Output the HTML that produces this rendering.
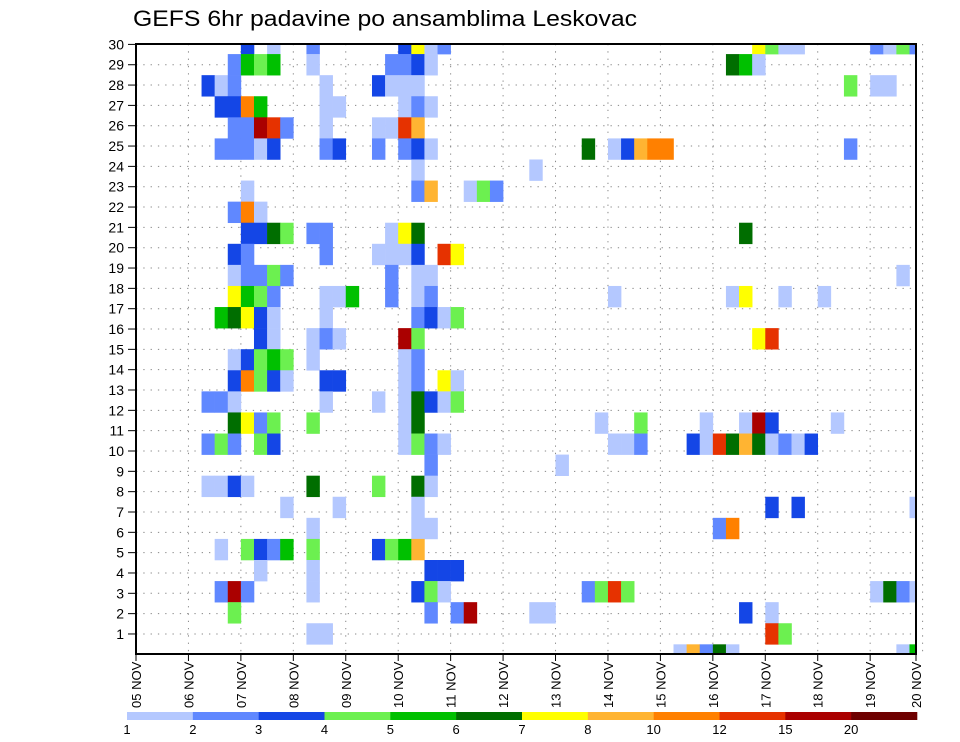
<!DOCTYPE html>
<html><head><meta charset="utf-8"><style>
html,body{margin:0;padding:0;background:#fff;}
svg{display:block;font-family:"Liberation Sans",sans-serif;}
</style></head><body>
<svg id="chart" width="960" height="742" viewBox="0 0 960 742" xmlns="http://www.w3.org/2000/svg">
<defs><clipPath id="plotclip"><rect x="136" y="44" width="780" height="610"/></clipPath></defs>
<text x="133" y="26" font-size="22" textLength="504" lengthAdjust="spacingAndGlyphs" fill="#000">GEFS 6hr padavine po ansamblima Leskovac</text>
<g id="grid"></g>
<g id="cells" clip-path="url(#plotclip)"></g>
<rect x="136" y="44" width="780" height="610" fill="none" stroke="#000" stroke-width="2"/>
<g id="yaxis"></g>
<g id="xaxis"></g>
<g id="legend"></g>
</svg>
<script>
// categories
const dayLabels = ["05 NOV","06 NOV","07 NOV","08 NOV","09 NOV","10 NOV","11 NOV","12 NOV","13 NOV","14 NOV","15 NOV","16 NOV","17 NOV","18 NOV","19 NOV","20 NOV"];
const memberTicks = [1,2,3,4,5,6,7,8,9,10,11,12,13,14,15,16,17,18,19,20,21,22,23,24,25,26,27,28,29,30];
// legend bins (mm)
const levelBounds = [1,2,3,4,5,6,7,8,10,12,15,20];
const levelLabels = ["1","2","3","4","5","6","7","8","10","12","15","20"];
const levelColors = ["#b4c8ff","#6088ff","#1446e6","#6cf050","#00c000","#006e00","#ffff00","#ffb432","#ff8000","#e63200","#aa0000","#6e0000"];
// cells: [member, 6h step index, precipitation mm]
const cellData = [
[30,8,3.5],[30,10,1.5],[30,13,2.5],[30,20,3.5],[30,21,7.5],[30,22,1.5],[30,23,2.5],[30,47,7.5],[30,48,4.5],[30,49,1.5],[30,50,1.5],[30,56,2.5],[30,57,1.5],[30,58,4.5],[30,59,2.5],
[29,7,2.5],[29,8,5.5],[29,9,4.5],[29,10,5.5],[29,13,1.5],[29,19,2.5],[29,20,2.5],[29,21,3.5],[29,22,1.5],[29,45,6.5],[29,46,5.5],[29,47,1.5],
[28,5,3.5],[28,6,1.5],[28,7,2.5],[28,14,1.5],[28,18,3.5],[28,19,1.5],[28,20,1.5],[28,21,1.5],[28,54,4.5],[28,56,1.5],[28,57,1.5],
[27,6,3.5],[27,7,3.5],[27,8,11],[27,9,5.5],[27,14,1.5],[27,15,1.5],[27,20,1.5],[27,21,2.5],[27,22,1.5],
[26,7,2.5],[26,8,2.5],[26,9,17.5],[26,10,13.5],[26,11,2.5],[26,14,1.5],[26,18,1.5],[26,19,1.5],[26,20,13.5],[26,21,9],
[25,6,2.5],[25,7,2.5],[25,8,2.5],[25,9,1.5],[25,10,3.5],[25,14,2.5],[25,15,3.5],[25,18,2.5],[25,20,2.5],[25,21,3.5],[25,22,1.5],[25,34,6.5],[25,36,1.5],[25,37,3.5],[25,38,9],[25,39,11],[25,40,11],[25,54,2.5],
[24,21,1.5],[24,30,1.5],
[23,8,1.5],[23,21,2.5],[23,22,9],[23,25,1.5],[23,26,4.5],[23,27,2.5],
[22,7,2.5],[22,8,11],[22,9,1.5],
[21,8,3.5],[21,9,3.5],[21,10,6.5],[21,11,4.5],[21,13,2.5],[21,14,2.5],[21,19,1.5],[21,20,7.5],[21,21,6.5],[21,46,6.5],
[20,7,3.5],[20,8,2.5],[20,14,2.5],[20,18,1.5],[20,19,1.5],[20,20,1.5],[20,21,3.5],[20,23,13.5],[20,24,7.5],
[19,7,1.5],[19,8,2.5],[19,9,2.5],[19,10,4.5],[19,11,2.5],[19,19,2.5],[19,21,1.5],[19,22,1.5],[19,58,1.5],
[18,7,7.5],[18,8,5.5],[18,9,4.5],[18,10,2.5],[18,14,1.5],[18,15,1.5],[18,16,5.5],[18,19,2.5],[18,21,1.5],[18,22,2.5],[18,36,1.5],[18,45,1.5],[18,46,7.5],[18,49,1.5],[18,52,1.5],
[17,6,5.5],[17,7,6.5],[17,8,7.5],[17,9,3.5],[17,10,1.5],[17,14,1.5],[17,21,2.5],[17,22,3.5],[17,23,1.5],[17,24,4.5],
[16,9,3.5],[16,10,1.5],[16,13,1.5],[16,14,2.5],[16,15,1.5],[16,20,17.5],[16,21,4.5],[16,47,7.5],[16,48,13.5],
[15,7,1.5],[15,8,3.5],[15,9,4.5],[15,10,5.5],[15,11,4.5],[15,13,1.5],[15,20,1.5],[15,21,2.5],
[14,7,3.5],[14,8,11],[14,9,4.5],[14,10,3.5],[14,11,1.5],[14,14,3.5],[14,15,3.5],[14,20,1.5],[14,21,2.5],[14,23,7.5],[14,24,1.5],
[13,5,2.5],[13,6,2.5],[13,7,1.5],[13,14,1.5],[13,18,1.5],[13,20,1.5],[13,21,6.5],[13,22,3.5],[13,23,1.5],[13,24,4.5],
[12,7,6.5],[12,8,7.5],[12,9,2.5],[12,10,4.5],[12,13,4.5],[12,20,1.5],[12,21,6.5],[12,35,1.5],[12,38,4.5],[12,43,1.5],[12,46,1.5],[12,47,17.5],[12,48,3.5],[12,53,1.5],
[11,5,2.5],[11,6,4.5],[11,7,2.5],[11,9,4.5],[11,10,3.5],[11,20,1.5],[11,21,4.5],[11,22,2.5],[11,23,1.5],[11,36,1.5],[11,37,1.5],[11,38,2.5],[11,42,3.5],[11,43,1.5],[11,44,13.5],[11,45,6.5],[11,46,9],[11,47,6.5],[11,48,1.5],[11,49,2.5],[11,50,1.5],[11,51,3.5],
[10,22,2.5],[10,32,1.5],
[9,5,1.5],[9,6,1.5],[9,7,3.5],[9,8,1.5],[9,13,6.5],[9,18,4.5],[9,21,6.5],[9,22,1.5],
[8,11,1.5],[8,15,1.5],[8,21,1.5],[8,48,3.5],[8,50,3.5],[8,59,1.5],
[7,13,1.5],[7,21,1.5],[7,22,1.5],[7,44,2.5],[7,45,11],
[6,6,1.5],[6,8,4.5],[6,9,3.5],[6,10,2.5],[6,11,5.5],[6,13,4.5],[6,18,3.5],[6,19,4.5],[6,20,5.5],[6,21,9],
[5,9,1.5],[5,13,1.5],[5,22,3.5],[5,23,3.5],[5,24,3.5],
[4,6,2.5],[4,7,17.5],[4,8,2.5],[4,13,1.5],[4,21,3.5],[4,22,4.5],[4,23,1.5],[4,34,2.5],[4,35,4.5],[4,36,13.5],[4,37,4.5],[4,56,1.5],[4,57,6.5],[4,58,2.5],[4,59,1.5],
[3,7,4.5],[3,22,2.5],[3,24,2.5],[3,25,17.5],[3,30,1.5],[3,31,1.5],[3,46,3.5],[3,48,1.5],
[2,13,1.5],[2,14,1.5],[2,48,13.5],[2,49,4.5],
[1,41,1.5],[1,42,9],[1,43,2.5],[1,44,6.5],[1,45,1.5],[1,58,1.5],[1,59,5.5]
];

const NS = "http://www.w3.org/2000/svg";
const X0 = 136, STEP = 13.11, DAY = STEP*4;
function xStep(i){ return X0 + i*STEP; }
function xDay(d){ return X0 + d*DAY; }
function yTick(n){ return 654.3 - n*20.33; }
function yCellTop(m){ return 665.4 - m*21.08; }
const CELL_H = 21.08;
function colorFor(v){
  let idx = -1;
  for (let k=0;k<levelBounds.length;k++){ if (v >= levelBounds[k]) idx = k; }
  return idx < 0 ? null : levelColors[idx];
}
function mk(tag, attrs, parent){
  const e = document.createElementNS(NS, tag);
  for (const k in attrs) e.setAttribute(k, attrs[k]);
  parent.appendChild(e);
  return e;
}

// grid
const grid = document.getElementById('grid');
memberTicks.forEach(n => {
  const l = mk('line', {x1:X0, x2:916, y1:yTick(n), y2:yTick(n), stroke:'#888', 'stroke-width':1, 'stroke-dasharray':'1.3 6'}, grid);
  
  
});
dayLabels.forEach((d, i) => {
  if (i === 0) return;
  const l = mk('line', {x1:xDay(i), x2:xDay(i), y1:44, y2:654, stroke:'#888', 'stroke-width':1, 'stroke-dasharray':'1.3 6'}, grid);
  
  
});

// cells
const cg = document.getElementById('cells');
cellData.forEach(([m, s, v]) => {
  const col = colorFor(v);
  if (!col) return;
  const r = mk('rect', {x:xStep(s).toFixed(2), y:yCellTop(m).toFixed(2), width:(STEP+0.3).toFixed(2), height:(CELL_H+0.3).toFixed(2), fill:col}, cg);
  
  
});

// y axis
const ya = document.getElementById('yaxis');
memberTicks.forEach(n => {
  const t = mk('line', {x1:128, x2:136, y1:yTick(n), y2:yTick(n), stroke:'#000', 'stroke-width':1}, ya);
  
  
  const lb = mk('text', {x:124, y:yTick(n)+5, 'font-size':14, 'text-anchor':'end', fill:'#000'}, ya);
  lb.textContent = String(n);
  
  
});

// x axis
const xa = document.getElementById('xaxis');
dayLabels.forEach((d, i) => {
  const x = xDay(i) > 916 ? 916 : xDay(i);
  const t = mk('line', {x1:x, x2:x, y1:654, y2:661, stroke:'#000', 'stroke-width':1}, xa);
  
  
  const lb = mk('text', {transform:'translate(' + (x+5) + ',708) rotate(-90)', 'font-size':13, fill:'#000'}, xa);
  lb.textContent = d;
  
  
});

// legend
const lg = document.getElementById('legend');
const LW = (917-127)/levelColors.length;
levelColors.forEach((c, k) => {
  const r = mk('rect', {x:127 + k*LW, y:712, width:LW+0.3, height:8, fill:c}, lg);
  
  
});
levelLabels.forEach((s, k) => {
  const t = mk('text', {x:127 + k*LW, y:734, 'font-size':13, 'text-anchor':'middle', fill:'#000'}, lg);
  t.textContent = s;
  
  
});
</script>
</body></html>
